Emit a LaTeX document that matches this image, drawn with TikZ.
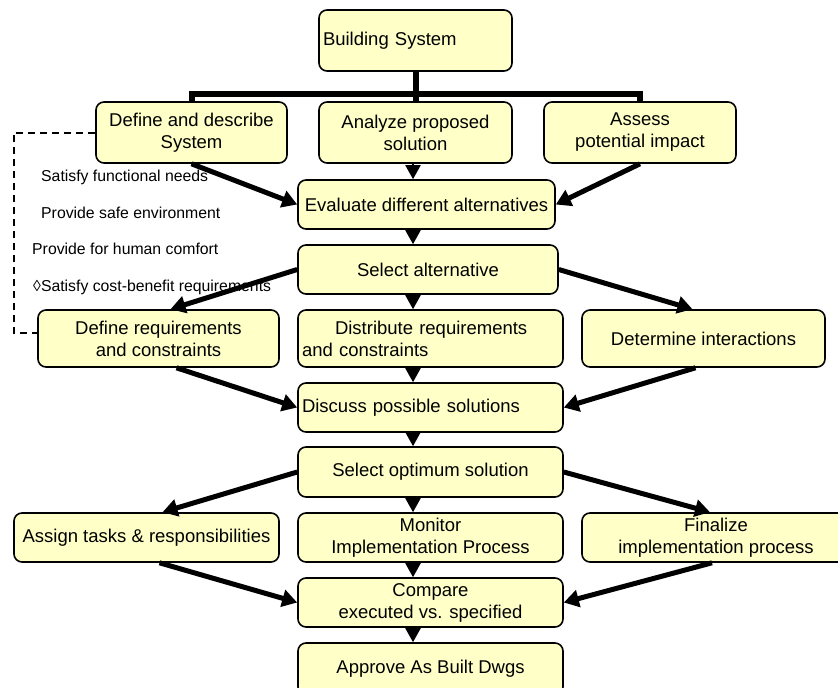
\documentclass[tikz,border=0pt]{standalone}
\usepackage{fontspec}
\setmainfont{Liberation Sans}
\usetikzlibrary{arrows.meta}

\definecolor{boxfill}{RGB}{255,255,200}
\newcommand\boxfont{\fontsize{18.5}{22}\selectfont}
\newcommand\notefont{\fontsize{15.8}{19}\selectfont}

\tikzset{
  box/.style={draw, line width=1.6pt, rounded corners=8pt, fill=boxfill,
              inner sep=0pt, font=\boxfont, align=center},
  flow/.style={line width=5pt, -{Triangle[length=15pt,width=17pt]}},
  varrow/.style={line width=2pt, -{Triangle[length=14pt,width=15pt]}},
  trunk/.style={line width=6pt, line join=miter},
  dashline/.style={line width=2pt, dash pattern=on 7pt off 5pt},
  note/.style={anchor=west, inner sep=0pt, font=\notefont}
}

\begin{document}
\begin{tikzpicture}[x=1pt, y=-1pt]
\useasboundingbox (0,0) rectangle (838,688);

% top of the hierarchy
\node[box, minimum width=193pt, minimum height=61pt, text width=185pt, align=left]
  (sys) at (415.5,40.5) {Building System};

\node[box, minimum width=191pt, minimum height=61pt] (def) at (191.5,132.5) {Define and describe\\System};
\node[box, minimum width=193pt, minimum height=61pt] (ana) at (415.5,132.5) {Analyze proposed\\solution};
\node[box, minimum width=192pt, minimum height=61pt] (ass) at (640,132.5) {Assess\\potential impact};

% central column
\node[box, minimum width=257pt, minimum height=49pt] (eva) at (426.5,204.5) {Evaluate different alternatives};
\node[box, minimum width=260pt, minimum height=49pt] (sel) at (428,269.5) {Select alternative};
\node[box, minimum width=265pt, minimum height=57pt, text width=257pt, align=left]
  (dist) at (430.5,338.5) {\hspace*{33pt}Distribute requirements\\and constraints};
\node[box, minimum width=265pt, minimum height=49pt, text width=257pt, align=left]
  (disc) at (430.5,407.5) {Discuss possible solutions};
\node[box, minimum width=265pt, minimum height=50pt] (opt) at (430.5,472) {Select optimum solution};
\node[box, minimum width=265pt, minimum height=49pt] (mon) at (430.5,537.5) {Monitor\\Implementation Process};
\node[box, minimum width=265pt, minimum height=49pt] (cmp) at (430.5,602.5) {Compare\\executed vs. specified};
\node[box, minimum width=265pt, minimum height=52pt] (apr) at (430.5,669) {Approve As Built Dwgs};

% side boxes
\node[box, minimum width=241pt, minimum height=57pt] (dreq) at (158.5,338.5) {Define requirements\\and constraints};
\node[box, minimum width=243pt, minimum height=57pt] (det) at (703.5,338.5) {Determine interactions};
\node[box, minimum width=265pt, minimum height=49pt] (asg) at (146.5,537.5) {Assign tasks \& responsibilities};
\node[box, minimum width=268pt, minimum height=49pt] (fin) at (716,537.5) {Finalize\\implementation process};

% notes beside the dashed bracket
\node[note] (n1) at (41,177) {Satisfy functional needs};
\node[note] (n2) at (41,213) {Provide safe environment};
\node[note] (n3) at (32,249) {Provide for human comfort};
\node[note] (n4) at (33,287) {◊Satisfy cost-benefit requirements};

% branching bar under the top box
\coordinate (bar) at (415.5,94);
\draw[trunk] (sys.south) -- (ana.north);
\draw[trunk] (def.north) -- (def.north |- bar) -- (ass.north |- bar) -- (ass.north);

% dashed bracket
\coordinate (dtop) at (14,132.5);
\coordinate (dbot) at (14,333);
\draw[dashline] (def.west) -- (dtop) -- (dbot) -- (dbot -| dreq.west);

% short arrows down the central column
\coordinate (vx) at (413,0);
\foreach \a/\b in {ana/eva, eva/sel, sel/dist, dist/disc, disc/opt, opt/mon, mon/cmp, cmp/apr}
  \draw[varrow] (\a.south -| vx) -- (\b.north -| vx);

% diagonal arrows
\draw[flow] (def.south) -- (eva.west);
\draw[flow] (ass.south) -- (eva.east);
\draw[flow] (sel.west) -- ([xshift=12pt]dreq.north);
\draw[flow] (sel.east) -- ([xshift=-11pt]det.north);
\draw[flow] ([xshift=18pt]dreq.south) -- (disc.west);
\draw[flow] ([xshift=-8pt]det.south) -- (disc.east);
\draw[flow] (opt.west) -- ([xshift=16pt]asg.north);
\draw[flow] (opt.east) -- ([xshift=-6pt]fin.north);
\draw[flow] ([xshift=13pt]asg.south) -- (cmp.west);
\draw[flow] ([xshift=-4pt]fin.south) -- (cmp.east);
\end{tikzpicture}
\end{document}
